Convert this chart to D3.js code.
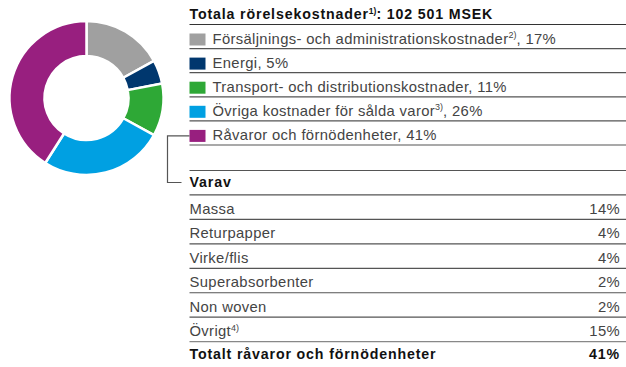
<!DOCTYPE html>
<html>
<head>
<meta charset="utf-8">
<script src="https://cdn.jsdelivr.net/npm/d3@7"></script>
<style>
  html, body { margin: 0; padding: 0; background: #fff; }
  svg { display: block; }
  text { font-family: "Liberation Sans", Arial, sans-serif; }
  .reg { letter-spacing: 0.35px; }
  .bold { letter-spacing: 0.85px; font-weight: bold; }
</style>
</head>
<body>
<svg id="chart" width="626" height="367"></svg>
<script>
// Cost categories (share of total operating costs, %)
const categories = [
  "Försäljnings- och administrationskostnader",
  "Energi",
  "Transport- och distributionskostnader",
  "Övriga kostnader för sålda varor",
  "Råvaror och förnödenheter"
];
const categoryNotes = ["2)", "", "", "3)", ""];
const shares = [17, 5, 11, 26, 41];
const colors = ["#a0a0a0", "#00376e", "#2ea836", "#00a0e2", "#981f7f"];

// Breakdown of raw materials
const rawItems = ["Massa", "Returpapper", "Virke/flis", "Superabsorbenter", "Non woven", "Övrigt"];
const rawNotes = ["", "", "", "", "", "4)"];
const rawShares = [14, 4, 4, 2, 2, 15];
const rawTotal = 41;

const title = "Totala rörelsekostnader";
const titleNote = "1)";
const titleValue = ": 102 501 MSEK";

const svg = d3.select("#chart");

// ---- Donut ----
const cx = 86.5, cy = 98, rOuter = 77, rInner = 42;
const pie = d3.pie().sort(null).value(d => d)(shares);
const arc = d3.arc().innerRadius(rInner).outerRadius(rOuter);
svg.append("g")
  .attr("transform", `translate(${cx},${cy})`)
  .selectAll("path")
  .data(pie)
  .join("path")
  .attr("d", arc)
  .attr("fill", (d, i) => colors[i])
  .attr("stroke", "#fff")
  .attr("stroke-width", 2.5)
  .attr("stroke-linejoin", "round");

// ---- Legend table ----
const x0 = 189.5, x1 = 626, xText = 212.5, xRight = 620;
const textColor = "#444";
const lineColor = "#555";
const fs = 14.8, fsBold = 14.2;

function rule(y, color) {
  svg.append("line")
    .attr("x1", x0).attr("x2", x1)
    .attr("y1", y).attr("y2", y)
    .attr("stroke", color || lineColor)
    .attr("stroke-width", 1.2);
}

// Title
const t = svg.append("text")
  .attr("class", "bold")
  .attr("x", x0).attr("y", 18.5)
  .attr("font-size", fsBold)
  .attr("fill", "#111");
t.append("tspan").text(title);
t.append("tspan").attr("font-size", 8.5).attr("dy", -5).attr("letter-spacing", 0).text(titleNote);
t.append("tspan").attr("dy", 5).text(titleValue);
rule(24.5, "#333");

// Category rows
const rowY = d3.scaleLinear().domain([0, 1]).range([24.5, 48.6]);
categories.forEach((c, i) => {
  const top = rowY(i);
  svg.append("rect")
    .attr("x", x0).attr("y", top + 9)
    .attr("width", 16).attr("height", 12)
    .attr("fill", colors[i]);
  const tx = svg.append("text")
    .attr("class", "reg")
    .attr("x", xText).attr("y", top + 19)
    .attr("font-size", fs)
    .attr("fill", textColor);
  tx.append("tspan").text(c);
  if (categoryNotes[i]) {
    tx.append("tspan").attr("font-size", 9).attr("dy", -5.5).attr("letter-spacing", 0).text(categoryNotes[i]);
    tx.append("tspan").attr("dy", 5.5).text(`, ${shares[i]}%`);
  } else {
    tx.append("tspan").text(`, ${shares[i]}%`);
  }
  rule(rowY(i + 1));
});

// Connector from the raw-material row to the breakdown table
const yLast = rowY(categories.length - 1) + 15;
svg.append("path")
  .attr("d", `M${x0},${yLast} H167.5 V182.5 H181.5`)
  .attr("fill", "none")
  .attr("stroke", "#555")
  .attr("stroke-width", 1.2);

// Breakdown table
const tableTop = 170.5;
const tRow = d3.scaleLinear().domain([0, 1]).range([tableTop, tableTop + 24.45]);
rule(tableTop);
svg.append("text")
  .attr("class", "bold")
  .attr("x", x0).attr("y", tRow(0) + 16.5)
  .attr("font-size", fsBold)
  .attr("fill", "#111")
  .text("Varav");
rule(tRow(1));

rawItems.forEach((item, i) => {
  const top = tRow(i + 1);
  const tx = svg.append("text")
    .attr("class", "reg")
    .attr("x", x0).attr("y", top + 19)
    .attr("font-size", fs)
    .attr("fill", textColor);
  tx.append("tspan").text(item);
  if (rawNotes[i]) tx.append("tspan").attr("font-size", 9).attr("dy", -5.5).attr("letter-spacing", 0).text(rawNotes[i]);
  svg.append("text")
    .attr("class", "reg")
    .attr("x", xRight).attr("y", top + 19)
    .attr("text-anchor", "end")
    .attr("font-size", fs)
    .attr("fill", textColor)
    .text(`${rawShares[i]}%`);
  rule(tRow(i + 2), i === rawItems.length - 1 ? "#888" : lineColor);
});

const totalTop = tRow(rawItems.length + 1);
svg.append("text")
  .attr("class", "bold")
  .attr("x", x0).attr("y", totalTop + 17.5)
  .attr("font-size", fsBold)
  .attr("fill", "#111")
  .text("Totalt råvaror och förnödenheter");
svg.append("text")
  .attr("class", "bold")
  .attr("x", xRight).attr("y", totalTop + 17.5)
  .attr("text-anchor", "end")
  .attr("font-size", fsBold)
  .attr("fill", "#111")
  .text(`${rawTotal}%`);
</script>
</body>
</html>
